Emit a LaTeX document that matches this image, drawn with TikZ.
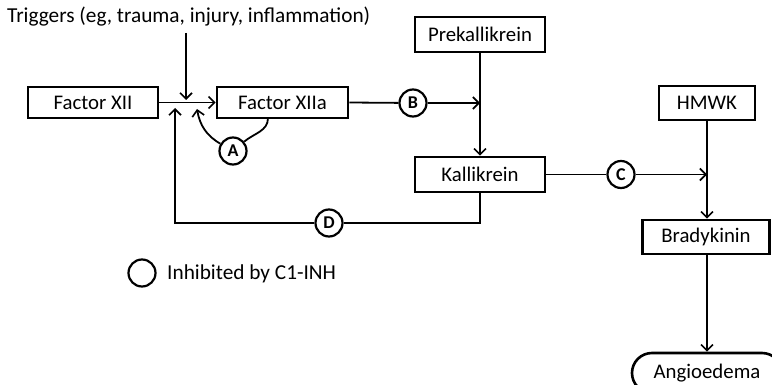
\documentclass[tikz,border=0pt]{standalone}
\usepackage{fontspec}
\setmainfont{Carlito}
\usetikzlibrary{arrows.meta,shapes.misc}
\begin{document}
\begin{tikzpicture}[x=1pt,y=-1pt,
  box/.style={draw,line width=2.6pt,inner sep=0pt,font=\fontsize{20.8}{24}\selectfont},
  circ/.style={draw,circle,line width=2.2pt,minimum size=27pt,inner sep=0pt,font=\bfseries\fontsize{18}{20}\selectfont},
  conn/.style={line width=1.8pt},
  arr/.style={conn,-{Straight Barb[length=6pt,width=12pt,line width=1.6pt]}},
  lbl/.style={inner sep=0pt,font=\fontsize{21.3}{24}\selectfont}]
\useasboundingbox (0,0) rectangle (772,385);
\clip (0,0) rectangle (772,385);
% nodes
\node[lbl,anchor=west] (trig) at (7,17) {Triggers (eg, trauma, injury, inflammation)};
\node[box,minimum width=130pt,minimum height=31pt] (fxii) at (93,102.5) {Factor XII};
\node[box,minimum width=131pt,minimum height=31pt] (fxiia) at (282.5,102.5) {Factor XIIa};
\node[box,minimum width=130pt,minimum height=35pt] (prek) at (480,34.5) {Prekallikrein};
\node[box,minimum width=130pt,minimum height=35pt] (kal) at (480,174.5) {Kallikrein};
\node[box,minimum width=96pt,minimum height=34pt] (hmwk) at (707,103) {HMWK};
\node[box,minimum width=127pt,minimum height=34pt] (brady) at (706,237) {Bradykinin};
\node[box,rounded rectangle,minimum width=150pt,minimum height=40pt] (angio) at (707,373) {Angioedema};
\node[circ] (A) at (233,151) {A};
\node[circ] (B) at (413,103) {B};
\node[circ] (C) at (621,174.5) {C};
\node[circ] (D) at (329,223) {D};
\node[circ] (L) at (142,273) {};
\node[lbl,anchor=west] (ltxt) at (167,273.5) {Inhibited by C1-INH};
% coordinates
\coordinate (jt) at (186,100);
\coordinate (jd) at (175,108);
\coordinate (ja) at (197,109);
\coordinate (as) at (268,118);
\coordinate (kb) at (480,103);
\coordinate (hc) at (707,174.5);
% connectors
\draw[arr] (trig.south -| jt) ++(0,6) -- (jt);
\draw[arr] (fxii.east) -- (fxiia.west);
\draw[conn] (kal.south) |- (D.east);
\draw[arr] (D.west) -| (jd);
\draw[conn] (as) to[out=-90,in=40] (A);
\draw[arr] (A) to[out=150,in=-80] (ja);
\draw[conn] (fxiia.east) -- (B);
\draw[arr] (B) -- (kb);
\draw[arr] (prek.south) -- (kal.north);
\draw[conn] (kal.east) -- (C);
\draw[arr] (C) -- (hc);
\draw[arr] (hmwk.south) -- (hmwk.south |- brady.north);
\draw[arr] (brady.south -| hmwk.south) -- (angio.north);
\end{tikzpicture}
\end{document}
